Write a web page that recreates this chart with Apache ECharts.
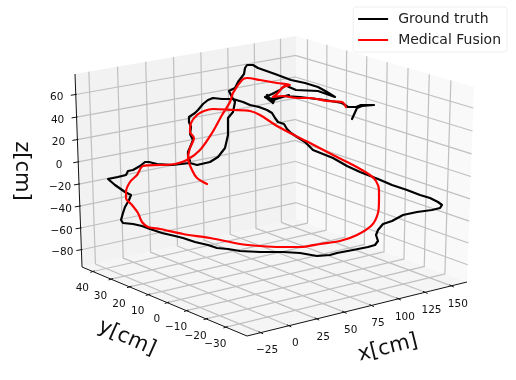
<!DOCTYPE html>
<html>
<head>
<meta charset="utf-8">
<style>
    html, body {margin:0;padding:0;background:#ffffff;}
    #chart {width:516px;height:380px;}
</style>
<script src="https://cdn.jsdelivr.net/npm/echarts@6/dist/echarts.min.js"></script>
</head>
<body>
<div id="chart"></div>
<script>
    // tick values of the three axes
    var xTicks = [-25, 0, 25, 50, 75, 100, 125, 150];
    var yTicks = [40, 30, 20, 10, 0, -10, -20, -30];
    var zTicks = [60, 40, 20, 0, -20, -40, -60, -80];
    var xRange = [-37, 165];
    var yRange = [-40.5, 46];
    var zRange = [-96, 78];

    // trajectories, in the plane of the view [across, down]
    var groundTruth = [
        [190,161],[188,156],[188,152],[191,145],[193,140],[190,134],[191,127],[189,122],[189,117],[195,113],
        [198,110],[203,104],[208,100],[213,98],[222,99],[233,99],[243,102],[250,105],[259,107],[267,110],
        [272,113],[275,118],[278,122],[284,124],[287,129],[291,133],[297,137],[305,142],[313,150],[323,154],
        [333,158],[347,166],[360,172],[378,179],[392,185],[407,190],[420,195],[430,198],[438,202],[442,205],
        [440,208],[432,210],[417,212],[403,215],[392,221],[383,224],[378,230],[376,235],[378,241],[375,245],
        [368,247],[353,250],[337,253],[330,255],[317,256],[300,253],[283,252],[260,252],[240,251],[228,249],
        [217,248],[208,245],[195,242],[183,238],[175,236],[162,233],[150,229],[142,226],[133,224],[123,223],
        [121,220],[123,213],[125,207],[129,200],[131,195],[125,192],[115,185],[108,179],[118,177],[126,175],
        [128,171],[133,170],[140,166],[145,162],[149,162],[157,164],[172,165],[190,163],[197,165],[210,162],
        [218,157],[225,148],[228,135],[228,118],[233,112],[235,102],[232,97],[229,91],[235,88],[238,82],
        [244,74],[245,68],[247,65],[253,65],[258,68],[275,74],[291,80],[305,83],[318,87],[327,92],
        [335,97],[318,91],[296,90],[289,87],[286,85],[280,90],[272,94],[265,97],[270,100],[267,95],
        [273,103],[275,98],[268,99],[272,102],[277,98],[289,95],[273,100],[285,96],[300,97],[325,100],
        [342,103],[348,107],[356,107],[361,105],[374,105],[362,106],[357,108],[352,119]
    ];
    var medicalFusion = [
        [207,184],[197,178],[192,170],[188,158],[190,148],[194,138],[190,132],[191,123],[197,115],[204,111],
        [213,109],[233,110],[250,111],[260,115],[277,126],[292,134],[310,143],[333,155],[353,165],[370,175],
        [376,181],[379,190],[379,200],[378,213],[372,225],[357,235],[340,241],[320,244],[300,247],[280,247],
        [260,246],[240,244],[210,238],[183,234],[160,229],[148,227],[142,222],[138,213],[132,205],[126,198],
        [126,192],[130,182],[137,175],[143,166],[160,165],[175,164],[187,160],[200,150],[212,133],[222,115],
        [230,102],[233,93],[242,80],[247,78],[260,80],[277,83],[290,85],[283,87],[278,93],[273,97],
        [283,96],[297,98],[310,98],[327,101],[342,102],[346,107]
    ];

    // corners of the box as seen in the view
    var leftWallCorners = [[82,267],[296.5,219],[296,36],[75,74]];
    var rightWallCorners = [[296.5,219],[467,282],[474,87],[296,36]];
    var floorCorners = [[247,336],[467,282],[296.5,219],[82,267]];

    // unit square -> seen quad, keeps the perspective of the walls
    function quadMap(q) {
        var dx1 = q[1][0] - q[2][0], dx2 = q[3][0] - q[2][0], sx = q[0][0] - q[1][0] + q[2][0] - q[3][0];
        var dy1 = q[1][1] - q[2][1], dy2 = q[3][1] - q[2][1], sy = q[0][1] - q[1][1] + q[2][1] - q[3][1];
        var det = dx1 * dy2 - dx2 * dy1;
        var g = (sx * dy2 - dx2 * sy) / det, h = (dx1 * sy - sx * dy1) / det;
        var a = q[1][0] - q[0][0] + g * q[1][0], b = q[3][0] - q[0][0] + h * q[3][0];
        var d = q[1][1] - q[0][1] + g * q[1][1], e = q[3][1] - q[0][1] + h * q[3][1];
        return function (u, v) {
            var w = g * u + h * v + 1;
            return [(a * u + b * v + q[0][0]) / w, (d * u + e * v + q[0][1]) / w];
        };
    }
    function norm(v, range) {
        return (v - range[0]) / (range[1] - range[0]);
    }

    var leftWall = quadMap(leftWallCorners);
    var rightWall = quadMap(rightWallCorners);
    var floor = quadMap(floorCorners);

    var gridSegs = [], axisSegs = [], labels = [];
    function seg(list, p, q) {
        list.push([p[0], p[1], q[0], q[1]]);
    }

    xTicks.forEach(function (t) {
        var n = norm(t, xRange);
        seg(gridSegs, leftWall(n, 0), leftWall(n, 1));
        seg(gridSegs, floor(n, 0), floor(n, 1));
        var p = floor(n, 0);
        seg(axisSegs, [p[0] - 2, p[1] - 1], [p[0] + 2.5, p[1] + 1.2]);
        labels.push({text: String(t).replace('-', '\u2212'), x: p[0] + 6.5, y: p[1] + 18, size: 10.5, rot: 0});
    });
    yTicks.forEach(function (t) {
        var n = norm(t, yRange);
        // y runs from the front corner to the back on the floor, the other way on the right wall
        seg(gridSegs, rightWall(1 - n, 0), rightWall(1 - n, 1));
        seg(gridSegs, floor(0, n), floor(1, n));
        var p = floor(0, n);
        seg(axisSegs, [p[0] - 2.5, p[1] + 0.8], [p[0] + 2, p[1] - 0.6]);
        labels.push({text: String(t).replace('-', '\u2212'), x: p[0] - 10.5, y: p[1] + 17, size: 10.5, rot: 0});
    });
    zTicks.forEach(function (t) {
        var n = norm(t, zRange);
        seg(gridSegs, leftWall(0, n), leftWall(1, n));
        seg(gridSegs, rightWall(0, n), rightWall(1, n));
        var p = leftWall(0, n);
        seg(axisSegs, [p[0] - 5, p[1] + 0.8], [p[0] + 1, p[1] - 0.2]);
        labels.push({text: String(t).replace('-', '\u2212'), x: p[0] - 19, y: p[1] + 3, size: 10.5, rot: 0});
    });
    seg(axisSegs, floorCorners[0], floorCorners[1]);
    seg(axisSegs, floorCorners[0], floorCorners[3]);
    seg(axisSegs, leftWallCorners[0], leftWallCorners[3]);

    labels.push({text: 'x[cm]', x: 388, y: 348, size: 21, rot: 14 * Math.PI / 180});
    labels.push({text: 'y[cm]', x: 127, y: 338, size: 21, rot: -24 * Math.PI / 180});
    labels.push({text: 'z[cm]', x: 21, y: 171, size: 21, rot: -Math.PI / 2});

    var panes = [
        {corners: leftWallCorners, color: '#f2f2f2'},
        {corners: rightWallCorners, color: '#f9f9f9'},
        {corners: floorCorners, color: '#f5f5f5'}
    ];

    function segRender(color, width) {
        return function (params, api) {
            var a = api.coord([api.value(0), api.value(1)]);
            var b = api.coord([api.value(2), api.value(3)]);
            return {
                type: 'line',
                shape: {x1: a[0], y1: a[1], x2: b[0], y2: b[1]},
                style: {stroke: color, lineWidth: width}
            };
        };
    }

    var chart = echarts.init(document.getElementById('chart'));
    chart.setOption({
        animation: false,
        grid: {left: 0, right: 0, top: 0, bottom: 0},
        xAxis: {type: 'value', min: 0, max: 516, show: false},
        yAxis: {type: 'value', min: 0, max: 380, inverse: true, show: false},
        legend: {
            data: ['Ground truth', 'Medical Fusion'],
            orient: 'vertical',
            right: 9,
            top: 7,
            align: 'left',
            padding: [5, 6, 5, 5],
            icon: 'rect',
            itemWidth: 30,
            itemHeight: 2,
            itemGap: 7,
            backgroundColor: 'rgba(255,255,255,0.8)',
            borderColor: '#eeeeee',
            borderWidth: 1,
            borderRadius: 3,
            textStyle: {fontFamily: 'DejaVu Sans', fontSize: 14, color: '#222222', padding: [0, 0, 0, 5]}
        },
        series: [
            {
                type: 'custom',
                silent: true,
                data: panes.map(function (p, i) { return [i]; }),
                renderItem: function (params, api) {
                    var pane = panes[params.dataIndex];
                    return {
                        type: 'polygon',
                        shape: {points: pane.corners.map(function (c) { return api.coord(c); })},
                        style: {fill: pane.color}
                    };
                }
            },
            {type: 'custom', silent: true, data: gridSegs, renderItem: segRender('#c0c0c0', 1.2)},
            {type: 'custom', silent: true, data: axisSegs, renderItem: segRender('#111111', 1)},
            {
                type: 'custom',
                silent: true,
                data: labels.map(function (l, i) { return [i]; }),
                renderItem: function (params, api) {
                    var l = labels[params.dataIndex];
                    var c = api.coord([l.x, l.y]);
                    return {
                        type: 'text',
                        x: c[0],
                        y: c[1],
                        rotation: l.rot,
                        style: {
                            x: 0,
                            y: 0,
                            text: l.text,
                            align: 'center',
                            verticalAlign: 'middle',
                            fontFamily: 'DejaVu Sans',
                            fontSize: l.size,
                            fill: '#111111'
                        }
                    };
                }
            },
            {
                name: 'Ground truth',
                type: 'line',
                data: groundTruth,
                symbol: 'none',
                itemStyle: {color: '#000000'},
                lineStyle: {color: '#000000', width: 2.2, cap: 'round', join: 'round'}
            },
            {
                name: 'Medical Fusion',
                type: 'line',
                data: medicalFusion,
                symbol: 'none',
                smooth: 0.3,
                itemStyle: {color: '#ff0000'},
                lineStyle: {color: '#ff0000', width: 2.2, cap: 'round', join: 'round'}
            }
        ]
    });
</script>
</body>
</html>
